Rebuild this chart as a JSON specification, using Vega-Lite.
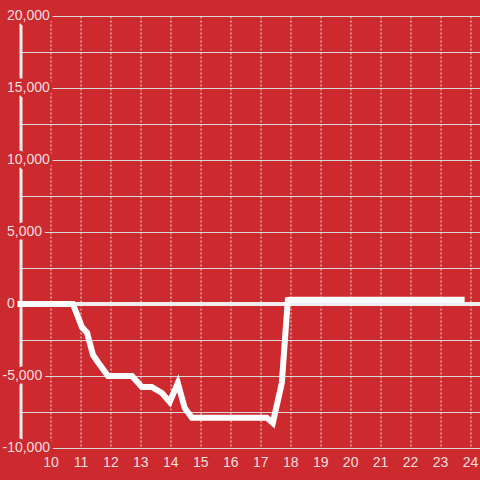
{
  "$schema": "https://vega.github.io/schema/vega-lite/v6.json",
  "width": 459.5,
  "height": 432,
  "autosize": {"type": "none"},
  "padding": {"left": 20.5, "top": 16, "right": 0, "bottom": 32},
  "background": "#cc2a2f",
  "config": {"view": {"stroke": null}, "font": "Liberation Sans"},
  "datasets": {
    "curve": [
      {"h": 9.0, "v": 0}, {"h": 10.75, "v": 0}, {"h": 11.05, "v": -1600}, {"h": 11.22, "v": -2000},
      {"h": 11.42, "v": -3540}, {"h": 11.58, "v": -4030}, {"h": 11.92, "v": -5000}, {"h": 12.72, "v": -5000},
      {"h": 13.05, "v": -5760}, {"h": 13.38, "v": -5760}, {"h": 13.72, "v": -6180}, {"h": 13.98, "v": -6800},
      {"h": 14.25, "v": -5490}, {"h": 14.48, "v": -7220}, {"h": 14.72, "v": -7900}, {"h": 17.22, "v": -7900},
      {"h": 17.42, "v": -8260}, {"h": 17.72, "v": -5490}, {"h": 17.92, "v": 280}, {"h": 17.98, "v": 300},
      {"h": 23.72, "v": 300}
    ],
    "ticks": [
      {"v": 20000, "label": "20,000"}, {"v": 15000, "label": "15,000"}, {"v": 10000, "label": "10,000"},
      {"v": 5000, "label": "5,000"}, {"v": 0, "label": "0"}, {"v": -5000, "label": "-5,000"},
      {"v": -10000, "label": "-10,000"}
    ]
  },
  "encoding": {
    "x": {
      "type": "quantitative",
      "scale": {"domain": [9, 24.3333], "nice": false, "zero": false},
      "axis": {
        "title": null, "values": [10, 11, 12, 13, 14, 15, 16, 17, 18, 19, 20, 21, 22, 23, 24],
        "grid": true, "gridColor": "#e6e6e6", "gridDash": [2, 2], "gridWidth": 1,
        "ticks": false, "tickSize": 0, "domain": false,
        "labelColor": "#f7dfdf", "labelFontSize": 14, "labelFont": "Liberation Sans",
        "labelPadding": 7, "labelOverlap": false, "labelFlush": false
      }
    },
    "y": {
      "type": "quantitative",
      "scale": {"domain": [-10000, 20000], "nice": false, "zero": false},
      "axis": {
        "title": null, "values": [-10000, -7500, -5000, -2500, 0, 2500, 5000, 7500, 10000, 12500, 15000, 17500, 20000],
        "grid": true, "gridColor": "#d8d8d8", "gridWidth": 1,
        "labels": false, "ticks": false, "tickSize": 0,
        "domain": true, "domainColor": "#eeeeee", "domainWidth": 3
      }
    }
  },
  "layer": [
    {
      "data": {"name": "curve"},
      "mark": {"type": "rule", "color": "#eeeeee", "strokeWidth": 3},
      "encoding": {
        "x": null,
        "y": {"datum": 0, "type": "quantitative"}
      }
    },
    {
      "data": {"name": "ticks"},
      "mark": {"type": "text", "align": "left", "baseline": "middle", "fontSize": 14, "font": "Liberation Sans",
               "fill": "#cc2a2f", "stroke": "#cc2a2f", "strokeWidth": 7, "strokeJoin": "round",
               "dx": {"expr": "datum.v < 0 ? -18 : -13.5"}},
      "encoding": {
        "x": {"datum": 9, "type": "quantitative"},
        "y": {"field": "v", "type": "quantitative"},
        "text": {"field": "label"}
      }
    },
    {
      "data": {"name": "ticks"},
      "mark": {"type": "text", "align": "left", "baseline": "middle", "fontSize": 14, "font": "Liberation Sans",
               "fill": "#f7dfdf",
               "dx": {"expr": "datum.v < 0 ? -18 : -13.5"}},
      "encoding": {
        "x": {"datum": 9, "type": "quantitative"},
        "y": {"field": "v", "type": "quantitative"},
        "text": {"field": "label"}
      }
    },
    {
      "data": {"name": "curve"},
      "mark": {"type": "line", "color": "#ffffff", "strokeWidth": 6, "strokeCap": "square", "strokeJoin": "miter"},
      "encoding": {
        "x": {"field": "h", "type": "quantitative"},
        "y": {"field": "v", "type": "quantitative"}
      }
    }
  ]
}
